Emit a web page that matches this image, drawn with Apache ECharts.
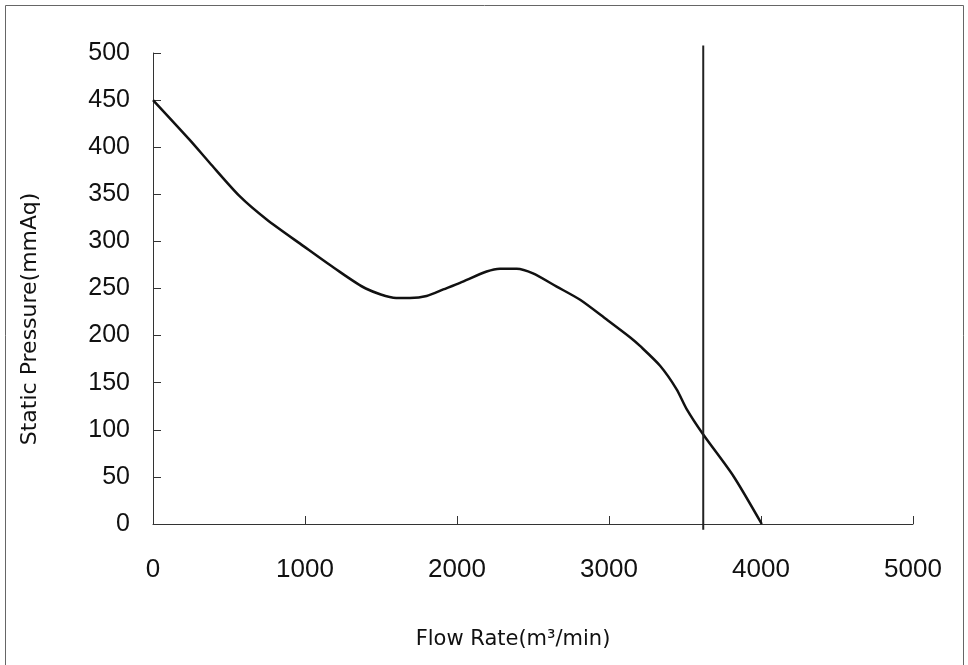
<!DOCTYPE html>
<html>
<head>
<meta charset="utf-8">
<script src="https://cdn.jsdelivr.net/npm/echarts@6/dist/echarts.min.js"></script>
<style>
html,body{margin:0;padding:0;background:#fff;}
#chart{width:968px;height:665px;}
</style>
</head>
<body>
<div id="chart"></div>
<script>
// Data
const flowRate = [0, 240, 375, 570, 750, 990, 1190, 1400, 1600, 1690, 1800, 1910, 2020, 2195, 2283, 2393, 2500, 2656, 2810, 2985, 3140, 3204, 3336, 3445, 3511, 3620, 3818, 4005];
const staticPressure = [450, 408, 383, 348, 323, 295, 272, 250, 240, 240, 242, 249, 256, 268, 271, 271, 266, 252, 238, 217, 198, 189, 168, 143, 122, 95, 51, 0];
const operatingFlow = 3620;
const operatingLineRange = [-6, 508];
const xTicks = {min: 0, max: 5000, interval: 1000};
const yTicks = {min: 0, max: 500, interval: 50};
const xTitle = 'Flow Rate(m³/min)';
const yTitle = 'Static Pressure(mmAq)';

const curve = flowRate.map((x, i) => [x, staticPressure[i]]);
const opLine = operatingLineRange.map(y => [operatingFlow, y]);

const chart = echarts.init(document.getElementById('chart'), null, {renderer: 'canvas'});
const labelFont = '"Liberation Sans Narrow", "Liberation Sans", Arial, sans-serif';
chart.setOption({
  animation: false,
  backgroundColor: '#ffffff',
  grid: {left: 153, right: 55, top: 53, bottom: 141, containLabel: false},
  xAxis: {
    type: 'value', min: xTicks.min, max: xTicks.max, interval: xTicks.interval,
    axisLine: {show: true, onZero: false, lineStyle: {color: '#333', width: 1}},
    axisTick: {show: true, inside: true, length: 8, lineStyle: {color: '#333', width: 1}},
    splitLine: {show: false},
    axisLabel: {margin: 33, fontFamily: labelFont, fontSize: 26, color: '#111', formatter: v => String(v)}
  },
  yAxis: {
    type: 'value', min: yTicks.min, max: yTicks.max, interval: yTicks.interval,
    axisLine: {show: true, onZero: false, lineStyle: {color: '#333', width: 1}},
    axisTick: {show: true, inside: true, length: 8, lineStyle: {color: '#333', width: 1}},
    splitLine: {show: false},
    axisLabel: {margin: 23, fontFamily: labelFont, fontSize: 25, color: '#111', formatter: v => String(v)}
  },
  series: [
    {
      type: 'line', data: curve, smooth: 0.25, showSymbol: false,
      lineStyle: {color: '#111', width: 2.5}, clip: false
    },
    {
      type: 'line', data: opLine, showSymbol: false,
      lineStyle: {color: '#222', width: 2}, clip: false
    }
  ],
  graphic: [
    {type: 'rect', shape: {x: 5.5, y: 5.5, width: 958, height: 700}, style: {fill: 'none', stroke: '#666', lineWidth: 1}, silent: true},
    {type: 'text', x: 513, y: 640, style: {text: xTitle, font: '21px "DejaVu Sans", sans-serif', fill: '#111', textAlign: 'center', textVerticalAlign: 'middle'}},
    {type: 'text', x: 30, y: 319, rotation: Math.PI / 2, style: {text: yTitle, font: '22px "DejaVu Sans", sans-serif', fill: '#111', textAlign: 'center', textVerticalAlign: 'middle'}}
  ]
});
</script>
</body>
</html>
